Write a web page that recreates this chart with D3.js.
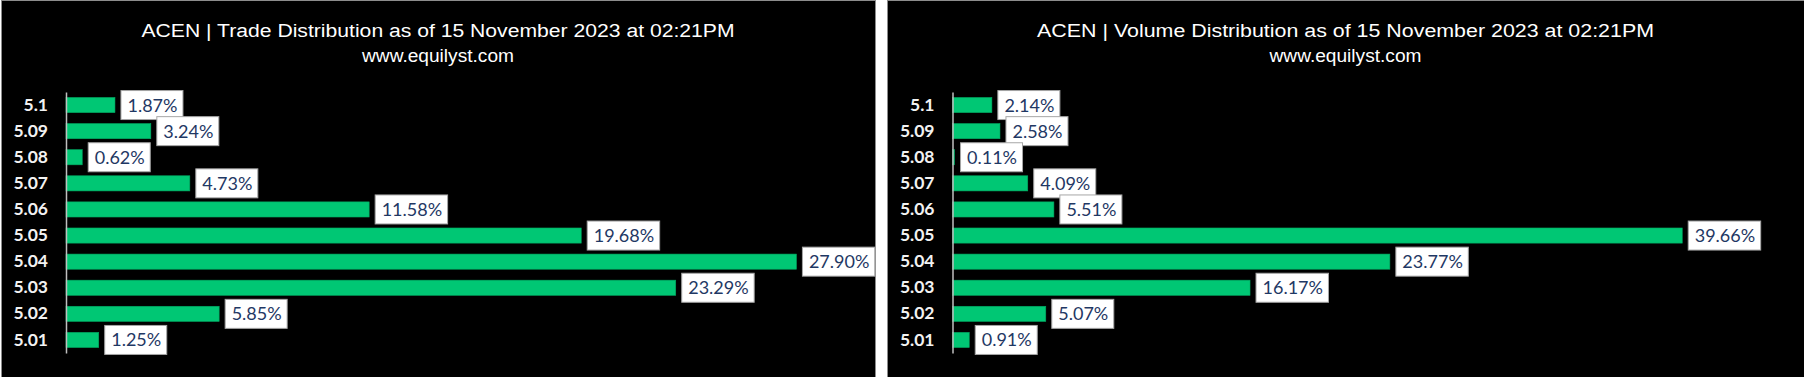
<!DOCTYPE html>
<html>
<head>
<meta charset="utf-8">
<script src="https://cdn.jsdelivr.net/npm/d3@7"></script>
<style>
  body { margin: 0; background: #fff; }
</style>
</head>
<body>
<div id="chart"></div>
<script>
const prices = ['5.1', '5.09', '5.08', '5.07', '5.06', '5.05', '5.04', '5.03', '5.02', '5.01']
const tradePct = [1.87, 3.24, 0.62, 4.73, 11.58, 19.68, 27.90, 23.29, 5.85, 1.25]
const volumePct = [2.14, 2.58, 0.11, 4.09, 5.51, 39.66, 23.77, 16.17, 5.07, 0.91]
const tradeTitle = 'ACEN | Trade Distribution as of 15 November 2023 at 02:21PM'
const volumeTitle = 'ACEN | Volume Distribution as of 15 November 2023 at 02:21PM'
const site = 'www.equilyst.com'

const fullWidth = 1804,
  fullHeight = 377

const svg = d3.select('#chart')
  .append('svg')
    .attr('width', fullWidth)
    .attr('height', fullHeight)
    .style('display', 'block')

svg.append('rect')
  .attr('width', fullWidth)
  .attr('height', fullHeight)
  .attr('fill', '#fff')

// one panel per distribution
drawPanel({ x: 1, w: 874, title: tradeTitle, titleW: 593, values: tradePct, axisX: 66, pxPerPct: 26.18, max: 30 })
drawPanel({ x: 887, w: 917, title: volumeTitle, titleW: 617, values: volumePct, axisX: 952.5, pxPerPct: 18.4, max: 40 })

function drawPanel (p) {
  const g = svg.append('g')

  g.append('rect')
    .attr('x', p.x + 0.5)
    .attr('y', 0.5)
    .attr('width', p.w)
    .attr('height', fullHeight + 2)
    .attr('fill', '#000')
    .attr('stroke', '#8c8c8c')
    .attr('stroke-width', 1)

  // title is a bit wider than plain Arial, stretch it to fit
  const cx = p.x + p.w / 2
  const t = g.append('text')
    .attr('text-anchor', 'middle')
    .attr('fill', '#fff')
    .style('font-family', '"Liberation Sans", Arial, sans-serif')
    .style('font-size', '18px')
  t.append('tspan').attr('x', cx).attr('y', 37)
    .attr('textLength', p.titleW).attr('lengthAdjust', 'spacingAndGlyphs')
    .text(p.title)
  t.append('tspan').attr('x', cx).attr('y', 61.5)
    .attr('textLength', 152).attr('lengthAdjust', 'spacingAndGlyphs')
    .text(site)

  const yScale = d3.scaleBand()
    .domain(prices)
    .range([92, 353])
    .paddingInner(0.42)
    .paddingOuter(0.21)

  const xScale = d3.scaleLinear()
    .domain([0, p.max])
    .range([p.axisX, p.axisX + p.max * p.pxPerPct])

  const rows = prices.map((c, i) => ({ price: c, value: p.values[i] }))

  g.selectAll('.bar')
    .data(rows)
    .enter()
    .append('rect')
      .attr('class', 'bar')
      .attr('x', xScale(0))
      .attr('y', d => yScale(d.price))
      .attr('width', d => xScale(d.value) - xScale(0))
      .attr('height', yScale.bandwidth())
      .attr('fill', '#00c774')
      .attr('stroke', '#00a862')
      .attr('stroke-width', 0.6)

  const axis = g.append('g')
    .attr('transform', `translate(${p.axisX}, 0)`)
    .call(d3.axisLeft(yScale).tickSize(0).tickPadding(18))
  axis.select('.domain')
    .attr('stroke', '#bfbfbf')
    .attr('stroke-width', 1.5)
  axis.selectAll('text')
    .attr('fill', '#f2f2f2')
    .style('font-family', 'Lato, Carlito, Calibri, sans-serif')
    .style('font-weight', 'bold')
    .style('font-size', '17.5px')

  const labels = g.selectAll('.lbl')
    .data(rows)
    .enter()
    .append('g')
      .attr('class', 'lbl')
      .attr('transform', d => `translate(${xScale(d.value) + 6}, ${yScale(d.price) + yScale.bandwidth() / 2})`)

  const boxes = labels.append('rect')
    .attr('fill', '#fff')
    .attr('stroke', '#a6a6a6')
    .attr('stroke-width', 1)

  const texts = labels.append('text')
    .attr('x', 6.5)
    .attr('dy', '0.36em')
    .attr('fill', '#1f3864')
    .style('font-family', 'Lato, Carlito, Calibri, sans-serif')
    .style('font-size', '18px')
    .text(d => d.value.toFixed(2) + '%')

  texts.each(function (d, i) {
    const w = this.getComputedTextLength()
    d3.select(boxes.nodes()[i])
      .attr('x', 0)
      .attr('y', -14.5)
      .attr('width', w + 12)
      .attr('height', 29)
  })
}
</script>
</body>
</html>
